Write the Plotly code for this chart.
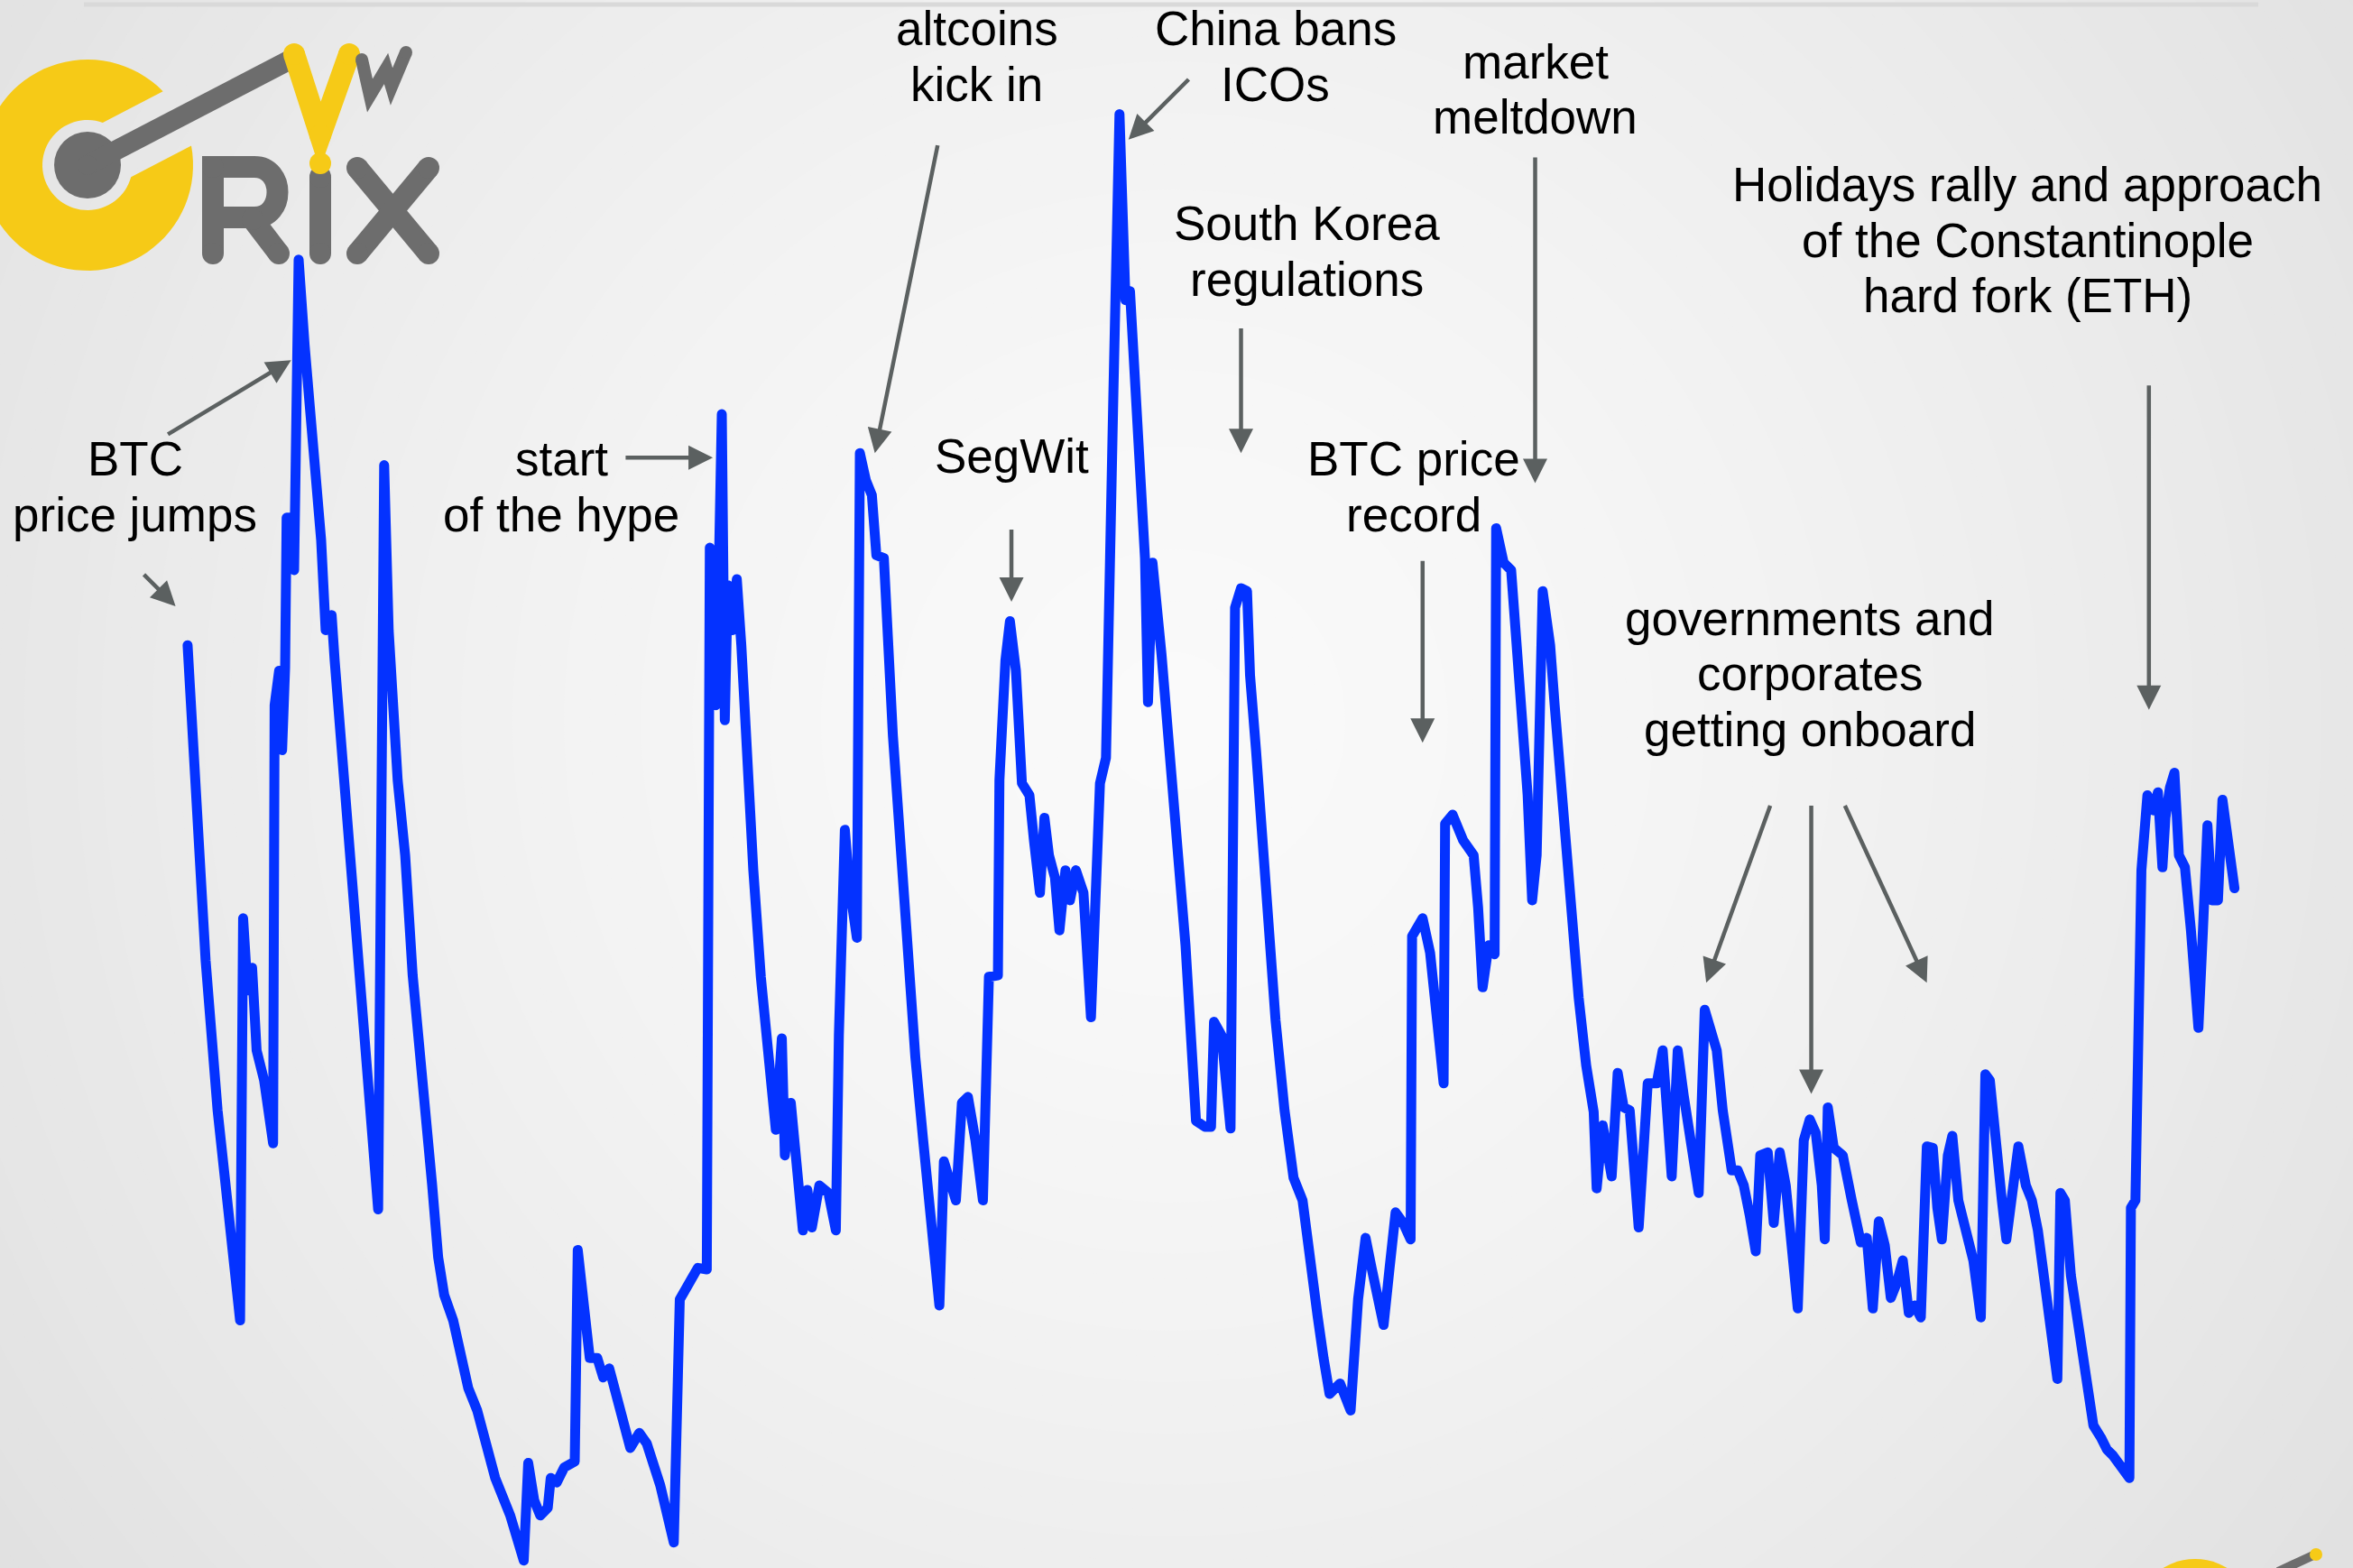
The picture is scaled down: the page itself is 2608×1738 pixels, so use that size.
import numpy as np
import plotly.graph_objects as go

W, H = 2608, 1738
S = W / 1568  # sketch units -> screen px

# index level (t = time step, level = index value)
t = [125, 130, 137, 145, 153, 160, 162, 165, 168, 171, 176, 182, 183, 186, 188, 190, 191, 194, 196, 199,
     203, 206, 209, 214, 217, 221, 223, 228, 235, 243, 248, 252, 256, 259, 265, 270, 275, 280, 288, 292,
     296, 302, 308, 312, 318, 324, 330, 340, 349, 352, 356, 360, 365, 367, 371, 376, 383, 385, 390, 393,
     398, 402, 406, 412, 420, 426, 431, 440, 449, 453, 457, 461, 465, 471, 473, 477, 479, 481, 483, 485,
     488, 491, 494, 497, 502, 507, 512, 517, 521, 523, 527, 531, 535, 538, 541, 546, 552, 557, 559, 563,
     566, 571, 573, 577, 581, 584, 589, 595, 600, 605, 610, 615, 620, 626, 629, 633, 637, 641, 645, 650,
     655, 659, 665, 666, 670, 673, 677, 681, 686, 689, 693, 696, 699, 703, 706, 710, 713, 717, 722, 727,
     733, 737, 739, 742, 746, 750, 753, 757, 760, 763, 765, 768, 774, 779, 785, 790, 797, 803, 807, 809,
     814, 820, 823, 827, 831, 833, 837, 844, 850, 856, 862, 868, 874, 878, 882, 886, 893, 900, 905, 910,
     914, 918, 922, 926, 930, 935, 940, 941, 944, 948, 953, 958, 962, 963, 968, 975, 982, 985, 988, 992,
     996, 997, 1002, 1007, 1010, 1014, 1018, 1021, 1024, 1028, 1033, 1036, 1042, 1047, 1052, 1057, 1062, 1064, 1068, 1074,
     1078, 1082, 1086, 1092, 1098, 1104, 1108, 1114, 1118, 1122, 1126, 1132, 1136, 1140, 1144, 1148, 1154, 1158, 1162, 1166,
     1170, 1173, 1178, 1182, 1186, 1190, 1194, 1198, 1202, 1206, 1210, 1214, 1216, 1218, 1222, 1228, 1234, 1240, 1244, 1248,
     1252, 1256, 1260, 1264, 1268, 1272, 1276, 1280, 1284, 1288, 1291, 1294, 1298, 1301, 1305, 1310, 1315, 1320, 1323, 1326,
     1330, 1334, 1337, 1341, 1345, 1350, 1354, 1358, 1363, 1367, 1371, 1373, 1376, 1380, 1385, 1390, 1395, 1400, 1404, 1408,
     1412, 1419, 1420, 1423, 1427, 1431, 1435, 1438, 1441, 1443, 1446, 1449, 1452, 1456, 1460, 1465, 1468, 1471, 1474, 1478,
     1481, 1484, 1487, 1489]
level = [615, 525, 405, 305, 225, 165, 433, 385, 400, 345, 325, 283, 575, 598, 545, 600, 700, 700, 665, 872,
         815, 780, 745, 685, 625, 635, 605, 545, 455, 355, 285, 239, 735, 625, 525, 475, 395, 345, 255, 207,
         182, 165, 139, 120, 105, 85, 60, 35, 5, 70, 45, 35, 40, 60, 57, 67, 71, 212, 165, 140,
         140, 127, 133, 110, 80, 90, 83, 55, 17, 179, 185, 193, 200, 199, 680, 575, 665, 769, 565, 655,
         625, 659, 615, 548, 465, 394, 345, 292, 353, 275, 310, 265, 225, 252, 227, 255, 250, 225, 355, 492,
         455, 420, 743, 725, 715, 675, 673, 555, 475, 395, 340, 287, 230, 175, 271, 255, 245, 310, 314, 285,
         245, 394, 395, 525, 605, 631, 598, 523, 515, 485, 450, 500, 475, 460, 425, 465, 445, 465, 450, 367,
         523, 540, 663, 785, 969, 845, 851, 775, 715, 673, 577, 670, 609, 545, 459, 415, 298, 294, 294, 364,
         355, 293, 640, 653, 651, 595, 545, 438, 365, 305, 260, 245, 205, 168, 140, 116, 123, 105, 179, 220,
         200, 177, 162, 200, 237, 230, 219, 421, 425, 433, 410, 365, 323, 496, 502, 485, 475, 440, 387, 415,
         409, 693, 670, 665, 625, 565, 515, 445, 475, 651, 615, 575, 495, 445, 380, 335, 304, 253, 295, 261,
         330, 307, 305, 227, 323, 323, 345, 261, 345, 315, 285, 250, 372, 360, 345, 305, 265, 265, 255, 235,
         211, 275, 277, 230, 277, 255, 215, 173, 285, 299, 290, 255, 219, 307, 280, 275, 245, 217, 220, 173,
         231, 215, 180, 190, 205, 170, 175, 167, 281, 280, 240, 219, 275, 288, 245, 225, 205, 167, 329, 325,
         275, 245, 219, 245, 281, 255, 245, 225, 185, 145, 126, 250, 245, 195, 165, 125, 95, 87, 79, 75,
         70, 60, 240, 245, 465, 515, 505, 517, 467, 500, 520, 530, 475, 467, 425, 360, 425, 495, 445, 445,
         512, 485, 465, 453]

# callouts: text lines with their centre (sketch units)
labels = [
    ("BTC", 90, 306), ("price jumps", 90, 343),
    ("start", 374, 306), ("of the hype", 374, 343),
    ("altcoins", 651, 19), ("kick in", 651, 56),
    ("China bans", 850, 19), ("ICOs", 850, 56),
    ("market", 1023, 41), ("meltdown", 1023, 78),
    ("South Korea", 871, 149), ("regulations", 871, 186),
    ("SegWit", 674, 304),
    ("BTC price", 942, 306), ("record", 942, 343),
    ("Holidays rally and approach", 1351, 123), ("of the Constantinople", 1351, 160),
    ("hard fork (ETH)", 1351, 197),
    ("governments and", 1206, 412), ("corporates", 1206, 449), ("getting onboard", 1206, 486),
]
# arrows: tail -> head (sketch units)
arrows = [
    ((111, 290), (194, 240)), ((95, 382), (117, 404)), ((416, 305), (475, 305)),
    ((625, 96), (583, 302)), ((793, 52), (752, 93)), ((827, 218), (827, 302)),
    ((674, 352), (674, 401)), ((948, 373), (948, 495)), ((1023, 104), (1023, 322)),
    ((1432, 256), (1432, 473)), ((1180, 536), (1137, 655)), ((1207, 536), (1207, 729)),
    ((1229, 536), (1284, 655)),
]

GREY = "#6d6d6d"
YEL = "#f6ca17"
ARROW = "#5b6060"


def px(x):
    return x / W


def py(y):
    return 1 - y / H


fig = go.Figure()
fig.add_trace(go.Scatter(x=t, y=level, mode="lines", line=dict(color="#0432ff", width=11),
                         hoverinfo="skip", showlegend=False))

shapes = []
# radial background
cx, cy = 1300, 800
for r in np.linspace(1700, 20, 60):
    g = int(round(250 - 26 * (r / 1650) ** 1.4))
    col = f"rgb({g},{g},{g})"
    shapes.append(dict(type="circle", xref="paper", yref="paper", layer="below",
                       x0=px(cx - r), x1=px(cx + r), y0=py(cy + r), y1=py(cy - r),
                       fillcolor=col, line_width=0))

# top rule
shapes.append(dict(type="line", xref="paper", yref="paper", x0=px(93), x1=px(2503), y0=py(5), y1=py(5),
                   line=dict(color="#d9d9d9", width=5)))


def path(pts):
    return "M " + " L ".join(f"{px(a):.5f},{py(b):.5f}" for a, b in pts)


def dot(x, y, r, col):
    shapes.append(dict(type="circle", xref="paper", yref="paper", x0=px(x - r), x1=px(x + r),
                       y0=py(y + r), y1=py(y - r), fillcolor=col, line_width=0))


def stroke(pts, w, col, caps=True):
    shapes.append(dict(type="path", xref="paper", yref="paper", path=path(pts),
                       line=dict(color=col, width=w)))
    if caps:
        for a, b in (pts[0], pts[-1]):
            dot(a, b, w / 2, col)


# logo: yellow C cut by the grey bar
c0 = np.array([97.0, 183.0])
th = np.radians(27.5)
u = np.array([np.cos(th), -np.sin(th)])
n = np.array([np.sin(th), np.cos(th)])
Ro, Ri, d = 117.0, 50.0, 34.0
p1 = c0 + np.sqrt(Ro**2 - d**2) * u - d * n
p2 = c0 + np.sqrt(Ro**2 - d**2) * u + d * n
p3 = c0 + np.sqrt(Ri**2 - d**2) * u + d * n
p4 = c0 + np.sqrt(Ri**2 - d**2) * u - d * n


def ang(p):
    v = p - c0
    return np.arctan2(-v[1], v[0])


a1, a2 = ang(p1), ang(p2) + 2 * np.pi
outer = [(c0[0] + Ro * np.cos(a), c0[1] - Ro * np.sin(a)) for a in np.linspace(a1, a2, 80)]
b1, b2 = ang(p3) + 2 * np.pi, ang(p4)
inner = [(c0[0] + Ri * np.cos(a), c0[1] - Ri * np.sin(a)) for a in np.linspace(b1, b2, 60)]
shapes.append(dict(type="path", xref="paper", yref="paper", path=path(outer + inner) + " Z",
                   fillcolor=YEL, line_width=0))
dot(97, 183, 37, GREY)
stroke([(97, 183), (322, 66)], 22, GREY)
stroke([(326, 60), (355, 150), (387, 60)], 24, YEL)
dot(355, 150, 12, YEL)
stroke([(401, 66), (410, 106), (428, 76), (434, 96), (450, 58)], 14, GREY)
# R
shapes.append(dict(type="path", xref="paper", yref="paper",
                   path=f"M {px(236)},{py(281)} L {px(236)},{py(185)} L {px(282)},{py(185)} "
                        f"C {px(316)},{py(185)} {px(316)},{py(241)} {px(282)},{py(241)} L {px(236)},{py(241)}",
                   line=dict(color=GREY, width=24)))
dot(236, 281, 12, GREY)
dot(236, 185, 12, GREY)
stroke([(280, 243), (309, 281)], 24, GREY)
# i
stroke([(355, 196), (355, 281)], 24, GREY)
dot(355, 181, 12, YEL)
# X
stroke([(396, 186), (475, 281)], 24, GREY)
stroke([(475, 186), (396, 281)], 24, GREY)

# small logo bottom right
dot(2433, 1796, 68, YEL)
stroke([(2525, 1742), (2566, 1723)], 10, GREY, caps=False)
dot(2567, 1723, 7, YEL)

annotations = []
for txt, x, y in labels:
    annotations.append(dict(text=txt, x=x / 1568, y=1 - y / 1045, xref="paper", yref="paper",
                            xanchor="center", yanchor="middle", showarrow=False,
                            font=dict(family="Liberation Sans, Arial", size=53, color="#000000")))
for (tx, ty), (hx, hy) in arrows:
    annotations.append(dict(text="", x=hx / 1568, y=1 - hy / 1045, xref="paper", yref="paper",
                            ax=(tx - hx) * S, ay=(ty - hy) * S, axref="pixel", ayref="pixel",
                            showarrow=True, arrowhead=2, arrowsize=1.2, arrowwidth=4.5,
                            arrowcolor=ARROW, standoff=0, startstandoff=0))

fig.update_layout(
    width=W, height=H, margin=dict(l=0, r=0, t=0, b=0, pad=0),
    paper_bgcolor="#e2e2e2", plot_bgcolor="rgba(0,0,0,0)",
    xaxis=dict(range=[0, 1568], visible=False, fixedrange=True),
    yaxis=dict(range=[0, 1045], visible=False, fixedrange=True),
    shapes=shapes, annotations=annotations, showlegend=False,
)

js = ("document.body.style.margin='0';document.body.style.overflow='hidden';"
      "document.querySelectorAll('.scatterlayer path.js-line').forEach(function(p){"
      "p.style.strokeLinejoin='round';p.style.strokeLinecap='round';});")
fig.write_html("out.html", config={"displayModeBar": False}, post_script=js)
